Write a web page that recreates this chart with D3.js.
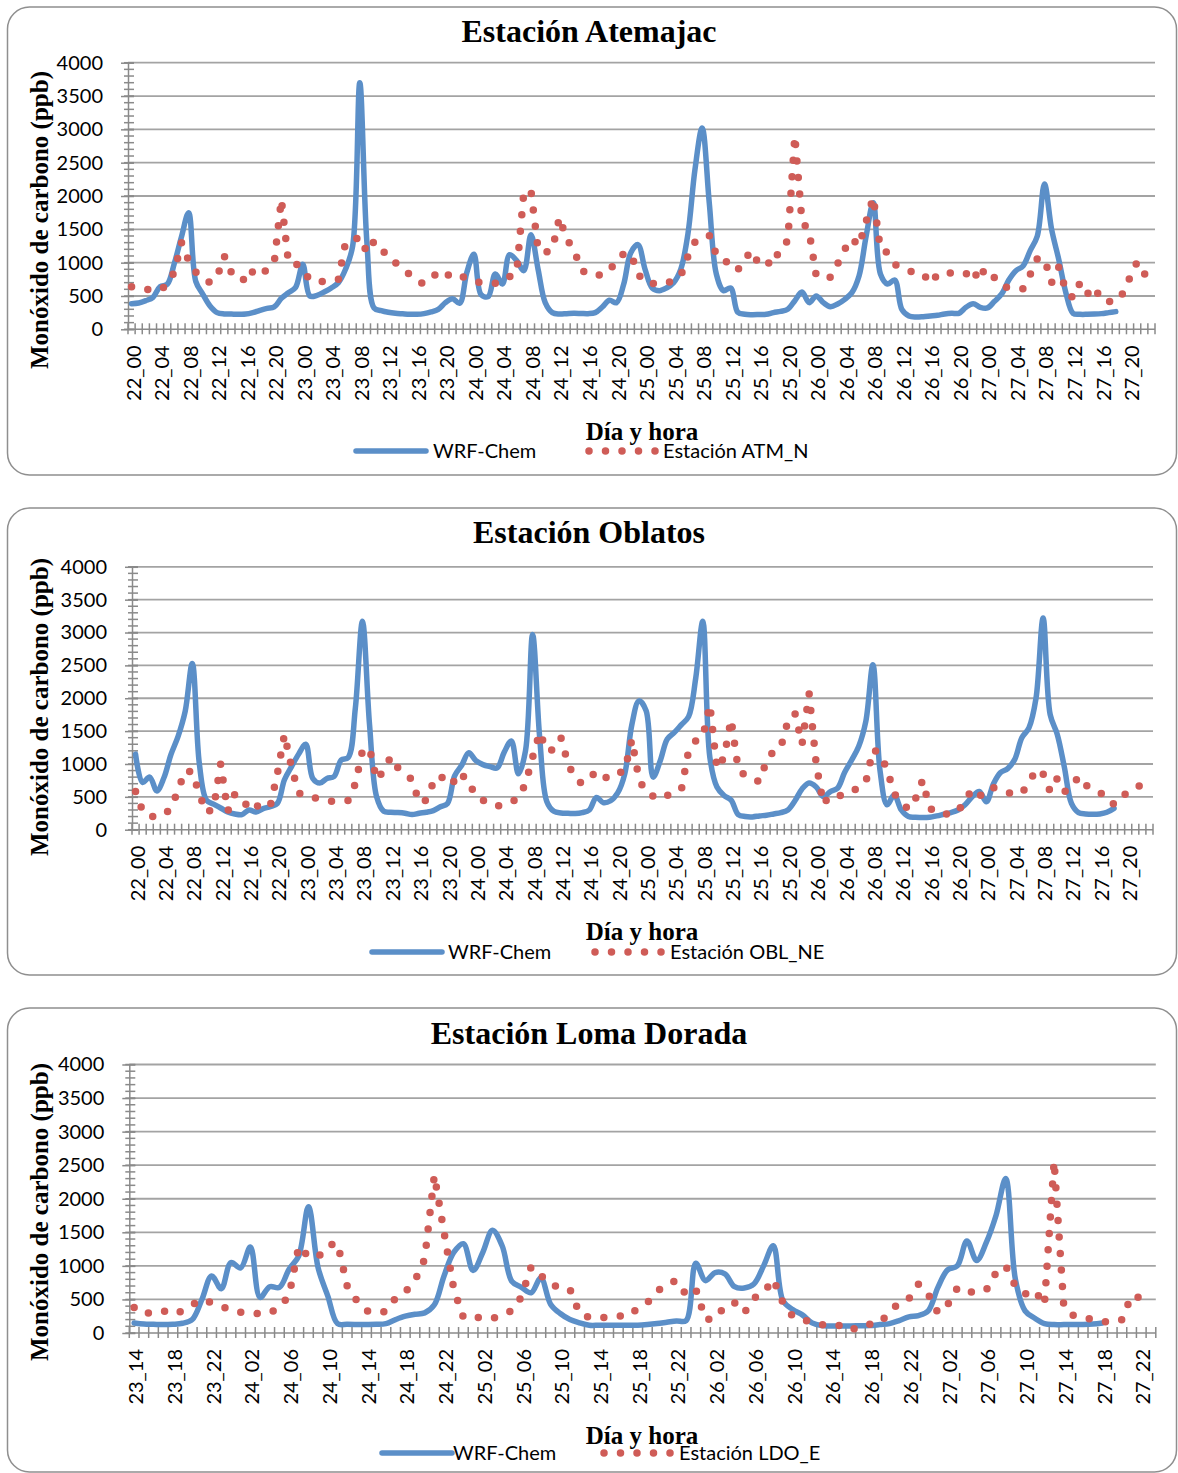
<!DOCTYPE html>
<html>
<head>
<meta charset="utf-8">
<script src="https://cdn.jsdelivr.net/npm/d3@7"></script>
<style>
  body { margin: 0; background: #fff; }
</style>
</head>
<body>
<svg id="chart" width="1178" height="1473"></svg>
<script>
// hourly categories "dd_hh"
function hourLabels(day0, hour0, day1, hour1) {
    const out = [];
    for (let d = day0; d <= day1; d++) {
        for (let h = (d === day0 ? hour0 : 0); h <= (d === day1 ? hour1 : 23); h++) {
            out.push(d + "_" + String(h).padStart(2, "0"));
        }
    }
    return out;
}

const atemajacHours = hourLabels(22, 0, 27, 23);
const oblatosHours = hourLabels(22, 0, 27, 23);
const lomaHours = hourLabels(23, 14, 27, 23);

const yTicks = [0, 500, 1000, 1500, 2000, 2500, 3000, 3500, 4000];

// Estación Atemajac
const atemajacWrf = [
    385, 395, 430, 480, 640, 675, 990, 1390, 1750, 720,
    525, 350, 250, 230, 228, 226, 228, 250, 285, 315,
    335, 465, 550, 630, 975, 500, 510, 560, 620, 700,
    900, 1250, 3700, 1300, 320, 280, 255, 240, 232, 225,
    225, 235, 260, 300, 400, 460, 390, 850, 1125, 520,
    490, 830, 680, 1120, 1030, 880, 1420, 900, 400, 250,
    230, 235, 240, 238,
    235, 250, 335, 435, 400, 675, 1150, 1270, 900, 620,
    580, 620, 700, 900, 1425, 2400, 3020, 1900, 825, 580,
    620, 255, 225, 220, 222, 225, 250, 270, 300, 430,
    560, 400, 500, 400, 340, 380, 450, 550, 800, 1400,
    1900, 830, 680, 740, 300, 200, 185, 190, 200, 210,
    230, 240, 240, 330, 385, 330, 320, 420, 530, 740,
    880, 950, 1180, 1400, 2180, 1500, 1050, 550, 240, 225,
    225, 228, 235, 250, 265
];
const atemajacObs = [
    640, 615, 600, 595, 590, 670, 860, 1300, 1030, 860,
    760, 700, 790, 1100, 850, 850, 700, 870, 800, 900,
    1000, 1950, 1000, 990, 900, 740, 720, 715, 730, 750,
    1300, 1320, 1390, 1150, 1320, 1230, 1050, 1000, 925, 820,
    730, 680, 760, 860, 790, 850, 800, 770, 720, 700,
    690, 690, 710, 790, 850, 2060, 2080, 1200, 1150, 1200,
    1680, 1350, 1210, 900,
    820, 815, 815, 870, 1050, 1130, 1140, 830, 700, 690,
    675, 700, 725, 800, 1090, 1310, 1350, 1410, 1120, 1080,
    920, 890, 1060, 1180, 960, 1010, 960, 1250, 1320, 2900,
    1620, 1470, 800, 780, 780, 980, 1200, 1365, 1250, 1620,
    1980, 1200, 1150, 975, 920, 875, 855, 835, 685, 820,
    860, 840, 825, 840, 725, 950, 740, 780, 650, 620,
    615, 610, 820, 1060, 1060, 700, 930, 580, 470, 700,
    530, 640, 430, 420, 410, 540, 780, 1010, 840, 640
];

// Estación Oblatos
const oblatosWrf = [
    1150, 720, 800, 590, 790, 1145, 1420, 1800, 2530, 1000,
    450, 390, 330, 270, 240, 230, 300, 270, 320, 350,
    400, 760, 960, 1150, 1300, 780, 710, 780, 810, 1060,
    1100, 1850, 3170, 1600, 500, 280, 265, 260, 250, 230,
    250, 265, 290, 350, 400, 820, 980, 1170, 1050, 990,
    960, 940, 1180, 1350, 850, 1200, 2970, 1400, 430, 280,
    255, 250, 245, 260, 300, 490, 410, 440, 560, 850,
    1600, 1960, 1815, 800, 1050, 1380, 1480, 1600, 1720, 2300,
    3170, 1100, 650, 520, 450, 230, 200, 195, 210, 220,
    240, 260, 300, 440, 620, 710, 650, 505, 580, 630,
    870, 1060, 1270, 1650, 2510, 900, 380, 530, 300, 200,
    190, 185, 190, 210, 235, 260, 300, 380, 500, 580,
    425, 700, 870, 930, 1070, 1400, 1550, 2000, 3220, 1750,
    1450, 950, 400, 260, 240, 235, 240, 265, 325
];
const oblatosObs = [
    580, 280, 195, 210, 220, 330, 600, 900, 880, 540,
    260, 320, 1000, 280, 540, 500, 300, 370, 320, 360,
    850, 1450, 950, 560, 500, 490, 470, 440, 430, 440,
    445, 700, 1200, 1240, 760, 900, 1110, 940, 860, 760,
    410, 450, 720, 830, 680, 740, 870, 630, 600, 450,
    380, 365, 370, 420, 480, 700, 1100, 1480, 1200, 1220,
    1400, 1000, 780, 700, 780, 890, 800, 780, 855, 900,
    1370, 770,
    565, 510, 465, 520, 580, 620, 1200, 1350, 1410, 1900,
    930, 1100, 1680, 920, 820, 770, 730, 1050, 1200, 1250,
    1650, 1770, 1300, 2070, 1000, 390, 520, 520, 520, 580,
    640, 720, 1220, 1160, 915, 550, 420, 310, 470, 750,
    330, 250, 235, 250, 270, 470, 600, 500, 630, 640,
    600, 570, 530, 560, 700, 920, 850, 580, 780, 580,
    640, 810, 680, 600, 560, 520, 380, 500, 570, 650,
    675, 675
];

// Estación Loma Dorada
const lomaWrf = [
    150, 135, 130, 125, 130, 145, 200, 500, 850, 660,
    1050, 970, 1280, 530, 690, 680, 950, 1150, 1880, 970,
    550, 140, 130, 128, 128, 130, 140, 200, 250, 280,
    300, 420, 850, 1200, 1330, 930, 1200, 1530, 1300, 770,
    680, 600, 820, 430, 290, 200, 150, 115, 115, 115,
    115, 115, 115,
    125, 140, 160, 180, 185, 1040, 780, 900, 880, 690,
    670, 730, 1000, 1300, 480, 350, 270, 150, 110, 105,
    105, 105, 108, 110, 125, 140, 185, 240, 260, 330,
    680, 940, 1000, 1370, 1080, 1350, 1750, 2300, 800, 330,
    220, 140, 125, 125, 125, 128, 135, 150
];
const lomaObs = [
    380, 280, 320, 330, 280, 330, 420, 500, 450, 400,
    340, 310, 300, 285, 300, 380, 560, 1290, 1140, 1130,
    1300, 1340, 700, 480, 330, 300, 320, 520, 610, 780,
    1100, 2350, 1500, 660, 230, 235, 230, 215, 280, 330,
    540, 990, 860, 720, 680, 650, 290, 230, 225, 240,
    255, 250, 365,
    450, 620, 730, 780, 570, 650, 200, 210, 400, 450,
    300, 520, 600, 800, 450, 250, 200, 160, 125, 118,
    110, 40, 110, 130, 150, 310, 450, 510, 730, 580,
    300, 420, 670, 600, 620, 640, 900, 1000, 700, 580,
    640, 420, 2560, 390, 260, 230, 200, 170, 165, 200,
    560, 520, 460
];

const panels = [
    {
        title: "Estación Atemajac", station: "Estación ATM_N",
        cats: atemajacHours, wrf: atemajacWrf, obs: atemajacObs,
        boxTop: 7, boxBottom: 475,
        x0: 128, x1: 1155, yTop: 62.7, yBottom: 329.3,
        titleY: 42, yTitleY: 220, xTitleY: 440, legendY: 451,
        lineX: 356, lineText: 433, dotX: 589, dotText: 663
    },
    {
        title: "Estación Oblatos", station: "Estación OBL_NE",
        cats: oblatosHours, wrf: oblatosWrf, obs: oblatosObs,
        boxTop: 508, boxBottom: 975,
        x0: 132, x1: 1153, yTop: 566.8, yBottom: 829.7,
        titleY: 543, yTitleY: 707, xTitleY: 940, legendY: 952,
        lineX: 372, lineText: 448, dotX: 595, dotText: 670
    },
    {
        title: "Estación Loma Dorada", station: "Estación LDO_E",
        cats: lomaHours, wrf: lomaWrf, obs: lomaObs,
        boxTop: 1008, boxBottom: 1472,
        x0: 129.3, x1: 1155.8, yTop: 1064.5, yBottom: 1333,
        titleY: 1044, yTitleY: 1212, xTitleY: 1444, legendY: 1453,
        lineX: 382, lineText: 453, dotX: 604, dotText: 679
    }
];

const svg = d3.select("#chart");
const blue = "#5b8fc8";
const red = "#cf5c57";
const gridColor = "#a3a3a3";
const axisColor = "#8a8a8a";
const serif = "'Liberation Serif', serif";
const sans = "Lato, 'Open Sans', sans-serif";
const dotPattern = "0 16.5";

panels.forEach(function(p) {
    const g = svg.append("g");

    g.append("rect")
        .attr("x", 7.5)
        .attr("y", p.boxTop)
        .attr("width", 1169)
        .attr("height", p.boxBottom - p.boxTop)
        .attr("rx", 22)
        .attr("fill", "#fff")
        .attr("stroke", "#8f8f8f")
        .attr("stroke-width", 1.5);

    const x = d3.scaleBand()
        .domain(p.cats)
        .range([p.x0, p.x1]);
    const y = d3.scaleLinear()
        .domain([0, 4000])
        .range([p.yBottom, p.yTop]);
    const half = x.bandwidth() / 2;

    // gridlines
    g.selectAll(".grid")
        .data(yTicks.filter(function(v) { return v > 0; }))
        .enter()
        .append("line")
            .attr("x1", p.x0)
            .attr("x2", p.x1)
            .attr("y1", function(v) { return y(v); })
            .attr("y2", function(v) { return y(v); })
            .attr("stroke", gridColor)
            .attr("stroke-width", 1.8);

    // y axis, minor ticks every 100
    const minor = d3.range(0, 4001, 100);
    g.selectAll(".minor")
        .data(minor)
        .enter()
        .append("line")
            .attr("x1", p.x0 - 4)
            .attr("x2", p.x0 + 6)
            .attr("y1", function(v) { return y(v); })
            .attr("y2", function(v) { return y(v); })
            .attr("stroke", axisColor)
            .attr("stroke-width", 1.5);

    const yAxisG = g.append("g")
        .attr("transform", "translate(" + p.x0 + ",0)")
        .call(d3.axisLeft(y)
            .tickValues(yTicks)
            .tickFormat(d3.format("d"))
            .tickSize(7)
            .tickSizeOuter(0)
            .tickPadding(18));
    yAxisG.select(".domain").attr("stroke", axisColor).attr("stroke-width", 1.5);
    yAxisG.selectAll(".tick line").attr("x1", 6).attr("stroke", axisColor).attr("stroke-width", 1.5);
    yAxisG.selectAll(".tick text")
        .attr("font-family", sans)
        .attr("font-size", 20)
        .attr("fill", "#000");

    // x axis: tick at every category boundary, labels every 4 hours
    g.append("line")
        .attr("x1", p.x0).attr("x2", p.x1)
        .attr("y1", p.yBottom).attr("y2", p.yBottom)
        .attr("stroke", axisColor).attr("stroke-width", 1.5);
    g.selectAll(".xtick")
        .data(d3.range(p.cats.length + 1))
        .enter()
        .append("line")
            .attr("x1", function(i) { return p.x0 + i * x.step(); })
            .attr("x2", function(i) { return p.x0 + i * x.step(); })
            .attr("y1", p.yBottom - 6)
            .attr("y2", p.yBottom + 5)
            .attr("stroke", axisColor)
            .attr("stroke-width", 1.5);

    const xAxisG = g.append("g")
        .attr("transform", "translate(0," + p.yBottom + ")")
        .call(d3.axisBottom(x)
            .tickValues(p.cats.filter(function(c, i) { return i % 4 === 0; }))
            .tickSize(0));
    xAxisG.select(".domain").remove();
    xAxisG.selectAll(".tick text")
        .attr("transform", "rotate(-90)")
        .attr("text-anchor", "end")
        .attr("x", -16)
        .attr("y", 0)
        .attr("dy", "0.45em")
        .attr("font-family", sans)
        .attr("font-size", 20)
        .attr("fill", "#000");

    // series
    const wrfLine = d3.line()
        .x(function(v, i) { return x(p.cats[i]) + half; })
        .y(function(v) { return y(v); })
        .curve(d3.curveCatmullRom.alpha(0.5));
    g.append("path")
        .datum(p.wrf)
        .attr("d", wrfLine)
        .attr("fill", "none")
        .attr("stroke", blue)
        .attr("stroke-width", 5.5)
        .attr("stroke-linejoin", "round")
        .attr("stroke-linecap", "round");

    const obsLine = d3.line()
        .x(function(v, i) { return x(p.cats[i]) + half; })
        .y(function(v) { return y(v); });
    g.append("path")
        .datum(p.obs)
        .attr("d", obsLine)
        .attr("fill", "none")
        .attr("stroke", red)
        .attr("stroke-width", 7.5)
        .attr("stroke-linecap", "round")
        .attr("stroke-dasharray", dotPattern);

    // titles
    g.append("text")
        .attr("x", 589)
        .attr("y", p.titleY)
        .attr("text-anchor", "middle")
        .attr("font-family", serif)
        .attr("font-weight", "bold")
        .attr("font-size", 32)
        .text(p.title);
    g.append("text")
        .attr("transform", "translate(48," + p.yTitleY + ") rotate(-90)")
        .attr("text-anchor", "middle")
        .attr("font-family", serif)
        .attr("font-weight", "bold")
        .attr("font-size", 25)
        .text("Monóxido de carbono (ppb)");
    g.append("text")
        .attr("x", 642)
        .attr("y", p.xTitleY)
        .attr("text-anchor", "middle")
        .attr("font-family", serif)
        .attr("font-weight", "bold")
        .attr("font-size", 25)
        .text("Día y hora");

    // legend
    g.append("line")
        .attr("x1", p.lineX).attr("x2", p.lineX + 70)
        .attr("y1", p.legendY).attr("y2", p.legendY)
        .attr("stroke", blue).attr("stroke-width", 5.5)
        .attr("stroke-linecap", "round");
    g.append("text")
        .attr("x", p.lineText).attr("y", p.legendY)
        .attr("dy", "0.36em")
        .attr("font-family", sans).attr("font-size", 20)
        .text("WRF-Chem");
    g.append("line")
        .attr("x1", p.dotX).attr("x2", p.dotX + 67)
        .attr("y1", p.legendY).attr("y2", p.legendY)
        .attr("stroke", red).attr("stroke-width", 7.5)
        .attr("stroke-linecap", "round")
        .attr("stroke-dasharray", dotPattern);
    g.append("text")
        .attr("x", p.dotText).attr("y", p.legendY)
        .attr("dy", "0.36em")
        .attr("font-family", sans).attr("font-size", 20)
        .text(p.station);
});
</script>
</body>
</html>
